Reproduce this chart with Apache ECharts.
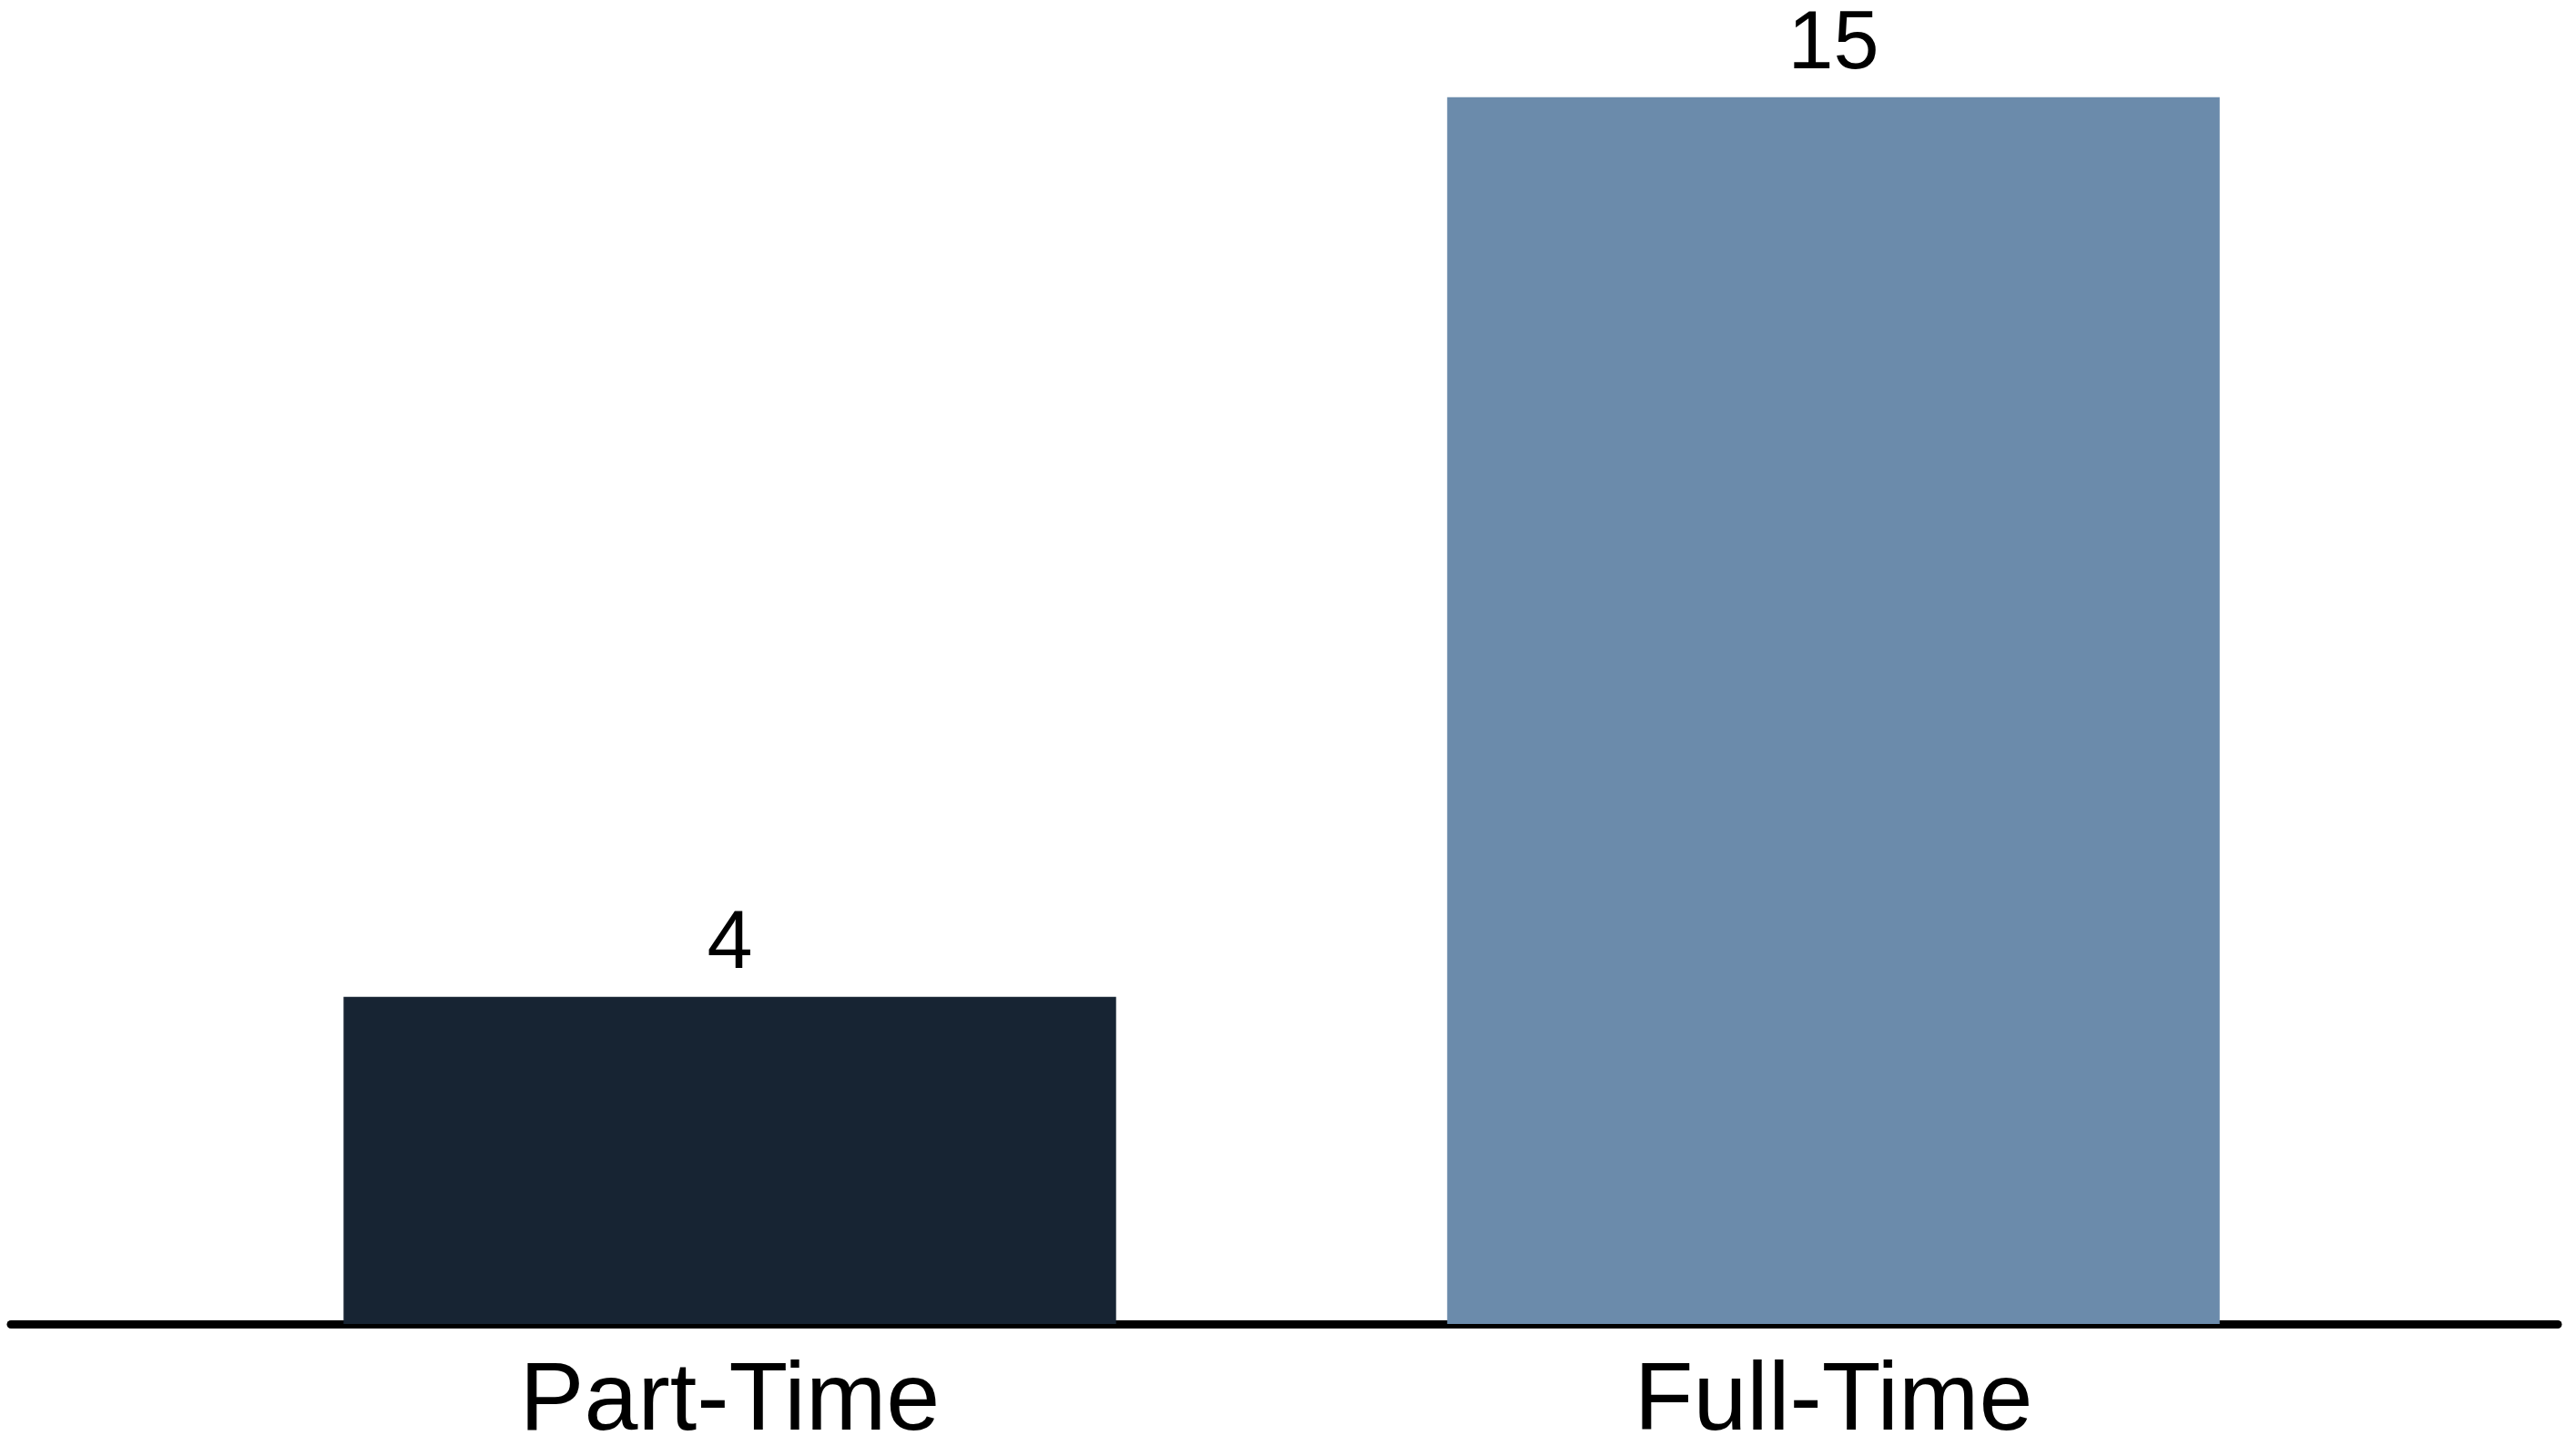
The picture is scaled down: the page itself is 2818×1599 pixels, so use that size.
<!DOCTYPE html>
<html>
<head>
<meta charset="utf-8">
<script src="https://cdn.jsdelivr.net/npm/echarts@6/dist/echarts.min.js"></script>
<style>
  html, body { margin: 0; padding: 0; background: #ffffff; }
  #chart { width: 2818px; height: 1599px; }
</style>
</head>
<body>
<div id="chart"></div>
<script>
const categories = ['Part-Time', 'Full-Time'];
const values = [4, 15];
const barColors = ['#172433', '#6b8bab'];

const chart = echarts.init(document.getElementById('chart'));
chart.setOption({
  backgroundColor: '#ffffff',
  animation: false,
  grid: [
    { left: 195.5, width: 2424, top: 17, bottom: 145, containLabel: false },
    { left: 12, right: 9, top: 17, bottom: 145, containLabel: false }
  ],
  xAxis: [
    {
      type: 'category',
      gridIndex: 0,
      data: categories,
      axisLine: { show: false },
      axisTick: { show: false },
      axisLabel: {
        margin: 34,
        fontFamily: 'Liberation Sans',
        fontSize: 106,
        color: '#000000'
      }
    },
    {
      type: 'value',
      gridIndex: 1,
      min: 0,
      max: 1,
      axisLine: { show: true, lineStyle: { color: '#000000', width: 9 } },
      axisTick: { show: false },
      axisLabel: { show: false },
      splitLine: { show: false }
    }
  ],
  yAxis: [
    {
      type: 'value',
      gridIndex: 0,
      min: 0,
      max: 16,
      show: false
    },
    {
      type: 'value',
      gridIndex: 1,
      min: 0,
      max: 1,
      show: false
    }
  ],
  series: [
    {
      type: 'bar',
      xAxisIndex: 0,
      yAxisIndex: 0,
      barWidth: '70%',
      data: values.map((v, i) => ({ value: v, itemStyle: { color: barColors[i] } })),
      label: {
        show: true,
        position: 'top',
        distance: 12,
        fontFamily: 'Liberation Sans',
        fontSize: 90,
        color: '#000000'
      }
    }
  ]
});
</script>
</body>
</html>
